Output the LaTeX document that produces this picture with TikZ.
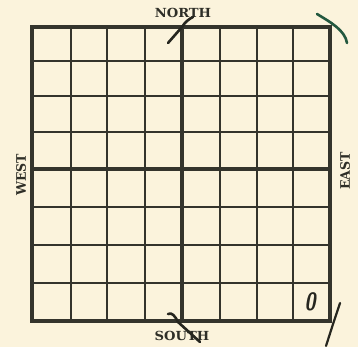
\documentclass[tikz,border=0pt]{standalone}
\usepackage{fontspec}
\setmainfont{DejaVu Serif}
\begin{document}
\begin{tikzpicture}[x=1pt,y=-1pt,
  ink/.style={draw=gridink},
  thin grid/.style={ink,line width=1.6pt},
  thick grid/.style={ink,line width=3.6pt},
  border/.style={ink,line width=4.2pt},
  compass/.style={font=\fontsize{12.5}{13}\selectfont\bfseries, text=labelink, inner sep=0pt, xscale=1.05},
  pen/.style={line width=2.6pt, line cap=round, line join=round}]
\definecolor{paper}{HTML}{FBF3DC}
\definecolor{gridink}{HTML}{34342C}
\definecolor{labelink}{HTML}{2E2E27}
\definecolor{greenpen}{HTML}{23583F}
\definecolor{blackpen}{HTML}{26261F}
\fill[paper] (0,0) rectangle (358,347);
\useasboundingbox (0,0) rectangle (358,347);
% inner grid lines
\foreach \x in {71,107,145,220,257,293} \draw[thin grid] (\x,27) -- (\x,321);
\foreach \y in {61,96,132,207,245,283} \draw[thin grid] (32,\y) -- (330,\y);
% centre lines
\draw[thick grid] (182,27) -- (182,321);
\draw[thick grid] (32,169) -- (330,169);
% border
\draw[border] (32,27) rectangle (330,321);
% labels
\node[compass] (north) at (183,13) {NORTH};
\node[compass] (south) at (182,336) {SOUTH};
\node[compass, rotate=90] (west) at (21,175) {WEST};
\node[compass, rotate=90] (east) at (345,171) {EAST};
\node[font=\fontsize{25}{26}\selectfont\bfseries\itshape\sffamily, text=blackpen, inner sep=0pt, xscale=0.8] (zero) at (310,302) {0};
% pen marks
\draw[pen, blackpen] (168,43) -- (182,27) .. controls (185,22) and (189,19) .. (193,17);
\draw[pen, blackpen] (168,314) .. controls (172,312) and (175,316) .. (178,322) -- (200,342);
\draw[pen, greenpen] (317,14) .. controls (330,22) and (345,30) .. (347,43);
\draw[pen, blackpen, line width=2.2pt] (340,303) -- (334,321) -- (326,346);
\end{tikzpicture}
\end{document}
